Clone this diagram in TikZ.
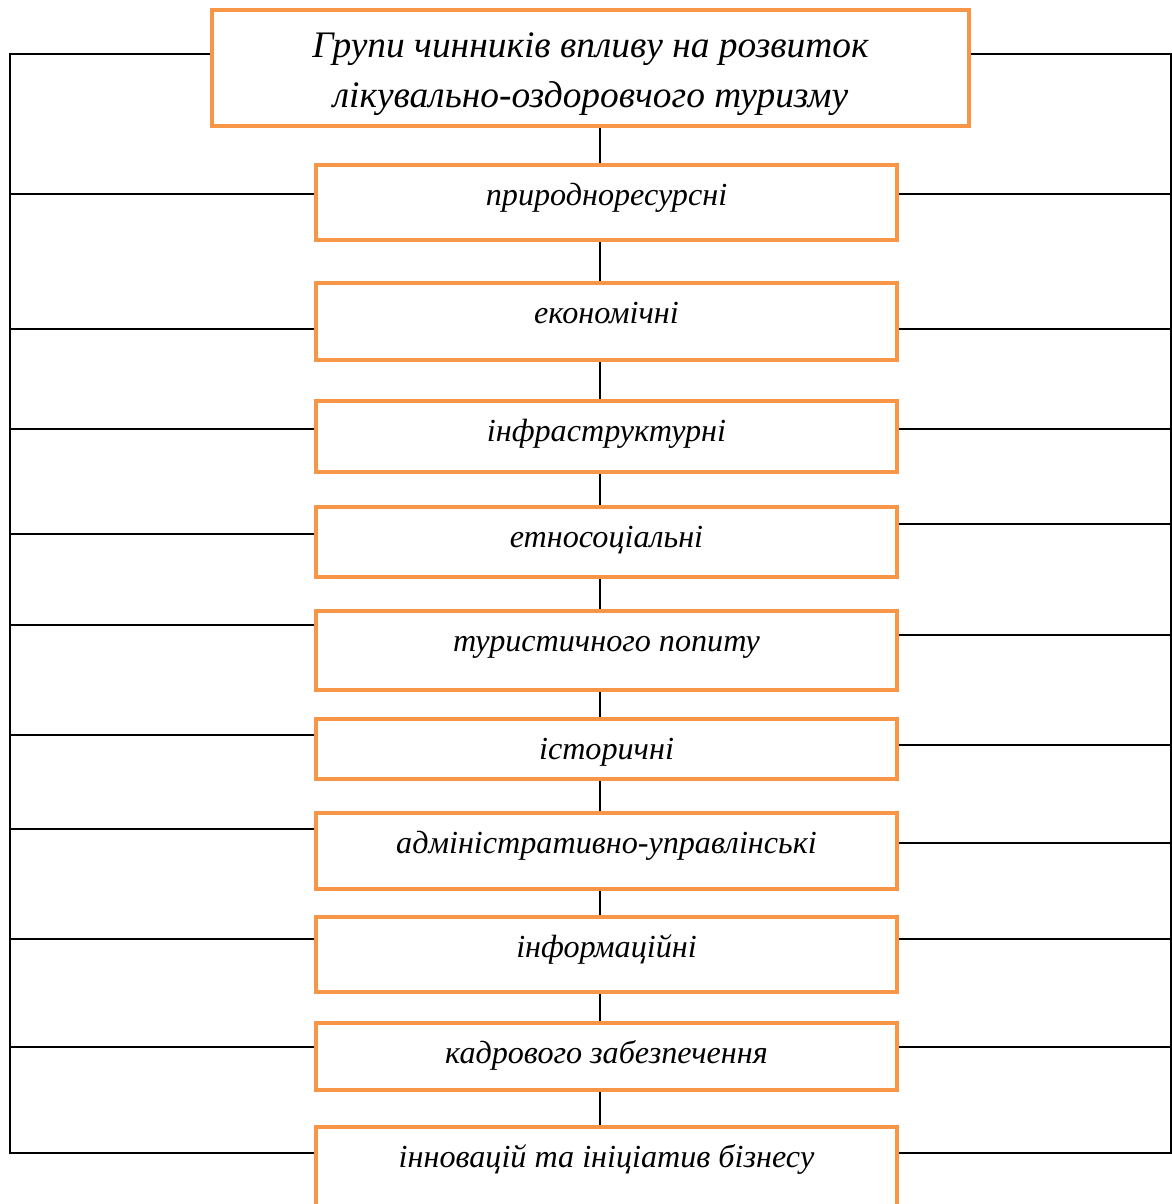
\documentclass[tikz,border=0pt]{standalone}
\usepackage{fontspec}
\setmainfont{Liberation Serif}
\definecolor{boxorange}{HTML}{F79646}

\begin{document}
\begin{tikzpicture}[x=0.02cm,y=-0.02cm,
    grp/.style={draw=boxorange,line width=2.3pt,fill=white,anchor=north,
                minimum width=15.14cm,minimum height=2.32cm,inner ysep=0pt,
                align=center,font=\fontsize{21.3}{28.5}\selectfont\itshape},
    fct/.style={draw=boxorange,line width=2.3pt,fill=white,anchor=north,
                minimum width=11.62cm,inner ysep=0pt,text height=0.8cm,
                text depth=#1,font=\fontsize{18.3}{21}\selectfont\itshape},
    lnk/.style={black,line width=0.9pt}]
  \useasboundingbox (0,0) rectangle (1172,1204);
  %-------------------------------------------------- the boxes
  \node[grp] (t) at (590.5,8)
    {\rule{0pt}{21pt}Групи чинників впливу на розвиток\\
     лікувально-оздоровчого туризму};
  \node[fct=0.70cm] (f1)  at (606.5,163)  {природноресурсні};
  \node[fct=0.74cm] (f2)  at (606.5,281)  {економічні};
  \node[fct=0.62cm] (f3)  at (606.5,399)  {інфраструктурні};
  \node[fct=0.60cm] (f4)  at (606.5,505)  {етносоціальні};
  \node[fct=0.78cm] (f5)  at (606.5,609)  {туристичного попиту};
  \node[fct=0.40cm] (f6)  at (606.5,717)  {історичні};
  \node[fct=0.72cm] (f7)  at (606.5,811)  {адміністративно-управлінські};
  \node[fct=0.70cm] (f8)  at (606.5,915)  {інформаційні};
  \node[fct=0.54cm] (f9)  at (606.5,1021) {кадрового забезпечення};
  \node[fct=0.82cm] (f10) at (606.5,1125) {інновацій та ініціатив бізнесу};
  %-------------------------------------------------- the spine
  \coordinate (sp) at (600,0);
  \foreach \a/\b in {t/f1,f1/f2,f2/f3,f3/f4,f4/f5,f5/f6,f6/f7,f7/f8,f8/f9,f9/f10}{
    \draw[lnk] (\a.south -| sp) -- (\b.north -| sp);
  }
  %-------------------------------------------------- the side rails
  \coordinate (ltop) at (10,54);
  \coordinate (lbot) at (10,1153);
  \coordinate (rtop) at (1171,54);
  \coordinate (rbot) at (1171,1153);
  \draw[lnk] (t.west |- ltop) -- (ltop) -- (lbot) -- (f10.west |- lbot);
  \draw[lnk] (t.east |- rtop) -- (rtop) -- (rbot) -- (f10.east |- rbot);
  \foreach \b/\y in {f1/194,f2/329,f3/429,f4/534,f5/625,f6/735,f7/829,f8/939,f9/1047}{
    \draw[lnk] (ltop |- 0,\y) -- (\b.west |- 0,\y);
  }
  \foreach \b/\y in {f1/194,f2/329,f3/429,f4/524,f5/635,f6/745,f7/843,f8/939,f9/1047}{
    \draw[lnk] (\b.east |- 0,\y) -- (rtop |- 0,\y);
  }
\end{tikzpicture}
\end{document}
